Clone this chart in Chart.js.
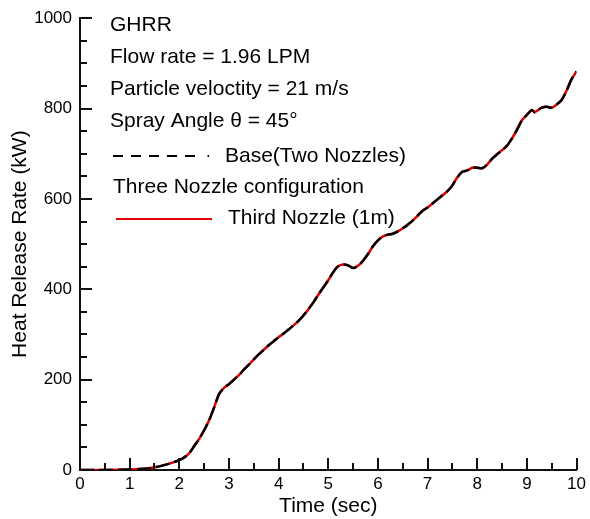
<!DOCTYPE html>
<html>
<head>
<meta charset="utf-8">
<script src="https://cdn.jsdelivr.net/npm/chart.js@4/dist/chart.umd.min.js"></script>
<style>
  html, body { margin: 0; padding: 0; background: #fff; }
  #wrap { position: relative; width: 590px; height: 519px; }
</style>
</head>
<body>
<div id="wrap"><canvas id="c" width="590" height="519"></canvas></div>
<script>
// ---- data ----
const timeSec = [0, 0.5, 1.0, 1.2, 1.4, 1.5, 1.6, 1.8, 2.0, 2.1, 2.2, 2.3, 2.4, 2.5, 2.6, 2.7, 2.8, 2.9, 3.0,
  3.1, 3.2, 3.3, 3.4, 3.5, 3.6, 3.7, 3.8, 3.9, 4.0, 4.1, 4.2, 4.3, 4.4, 4.5, 4.6, 4.7, 4.8, 4.9, 5.0,
  5.1, 5.2, 5.3, 5.4, 5.5, 5.6, 5.7, 5.8, 5.9, 6.0, 6.1, 6.2, 6.3, 6.4, 6.5, 6.6, 6.7, 6.8, 6.9, 7.0,
  7.1, 7.2, 7.3, 7.4, 7.5, 7.6, 7.7, 7.8, 7.9, 8.0, 8.1, 8.2, 8.3, 8.4, 8.5, 8.6, 8.7, 8.8, 8.9, 9.0,
  9.1, 9.15, 9.2, 9.3, 9.4, 9.5, 9.6, 9.7, 9.8, 9.9, 10.0];
const baseTwoNozzles = [0, 0, 1, 2, 4, 6, 8, 14, 22, 28, 37, 53, 69, 88, 110, 138, 168, 182, 190,
  200, 210, 222, 233, 245, 256, 266, 276, 285, 294, 302, 311, 320, 330, 342, 356, 371, 388, 404, 420,
  438, 451, 455, 453, 447, 452, 463, 478, 495, 508, 517, 521, 523, 528, 535, 543, 552, 563, 574, 581,
  590, 599, 608, 617, 630, 648, 660, 663, 669, 669, 668, 676, 689, 699, 708, 718, 734, 753, 774, 786,
  797, 792, 795, 802, 804, 802, 809, 819, 840, 865, 882];
const thirdNozzle1m = [0, 0, 1, 2, 4, 6, 8, 14, 22, 28, 37, 53, 69, 88, 110, 138, 168, 182, 190,
  200, 210, 222, 233, 245, 256, 266, 276, 285, 294, 302, 311, 320, 330, 342, 356, 371, 388, 404, 420,
  438, 451, 455, 453, 447, 452, 463, 478, 495, 508, 517, 521, 523, 528, 535, 543, 552, 563, 574, 581,
  590, 599, 608, 617, 630, 648, 660, 663, 669, 669, 668, 676, 689, 699, 708, 718, 734, 753, 774, 786,
  797, 792, 795, 802, 804, 802, 809, 819, 840, 865, 882];
const xTickValues = [0, 1, 2, 3, 4, 5, 6, 7, 8, 9, 10];
const yTickValues = [0, 200, 400, 600, 800, 1000];
const annotationLines = ["GHRR", "Flow rate = 1.96 LPM", "Particle veloctity = 21 m/s", "Spray Angle \u03B8 = 45\u00B0"];
const legendBase = "Base(Two Nozzles)";
const legendGroup = "Three Nozzle configuration";
const legendThird = "Third Nozzle (1m)";

const FONT = "'Liberation Sans', Arial, Helvetica, sans-serif";

const toPts = (xs, ys) => xs.map((x, i) => ({ x: x, y: ys[i] }));

const innerTicks = {
  id: 'innerTicks',
  afterDraw(chart) {
    const ctx = chart.ctx;
    const xs = chart.scales.x, ys = chart.scales.y;
    const ca = chart.chartArea;
    ctx.save();
    ctx.strokeStyle = '#111';
    ctx.lineWidth = 2;
    for (let v = 0; v <= 10.0001; v += 0.5) {
      const px = Math.round(xs.getPixelForValue(v));
      const major = Math.abs(v - Math.round(v)) < 1e-6;
      const len = major ? 12 : 7;
      ctx.beginPath();
      ctx.moveTo(px, ca.bottom);
      ctx.lineTo(px, ca.bottom - len);
      ctx.stroke();
    }
    for (let v = 0; v <= 1000; v += 50) {
      const py = Math.round(ys.getPixelForValue(v));
      const major = v % 200 === 0;
      const len = major ? 12 : 7;
      ctx.beginPath();
      ctx.moveTo(ca.left, py);
      ctx.lineTo(ca.left + len, py);
      ctx.stroke();
    }
    ctx.restore();

    ctx.save();
    ctx.fillStyle = '#000';
    ctx.font = '21px ' + FONT;
    ctx.textBaseline = 'middle';
    ctx.textAlign = 'left';
    const ty = [25, 57, 89, 121];
    annotationLines.forEach((t, i) => ctx.fillText(t, 110, ty[i]));
    ctx.strokeStyle = '#000';
    ctx.lineWidth = 2;
    ctx.setLineDash([10, 8]);
    ctx.beginPath(); ctx.moveTo(113, 156); ctx.lineTo(199, 156); ctx.stroke();
    ctx.setLineDash([]);
    ctx.beginPath(); ctx.moveTo(207.5, 156); ctx.lineTo(209, 156); ctx.stroke();
    ctx.fillText(legendBase, 225, 156);
    ctx.fillText(legendGroup, 113, 187);
    ctx.strokeStyle = '#e00000';
    ctx.beginPath(); ctx.moveTo(116, 219); ctx.lineTo(212, 219); ctx.stroke();
    ctx.fillText(legendThird, 228, 218);
    ctx.restore();
  }
};

new Chart(document.getElementById('c'), {
  type: 'line',
  data: {
    datasets: [
      {
        label: legendBase,
        data: toPts(timeSec, baseTwoNozzles),
        borderColor: '#000',
        borderWidth: 2.5,
        borderDash: [14, 5],
        pointRadius: 0,
        tension: 0.25,
        fill: false
      },
      {
        label: legendThird,
        data: toPts(timeSec, thirdNozzle1m),
        borderColor: '#e00000',
        borderWidth: 2.5,
        pointRadius: 0,
        tension: 0.25,
        fill: false
      }
    ]
  },
  plugins: [innerTicks],
  options: {
    responsive: false,
    animation: false,
    devicePixelRatio: 1,
    layout: { padding: { top: 16, right: 11, left: 0, bottom: 0 } },
    plugins: { legend: { display: false }, tooltip: { enabled: false } },
    scales: {
      x: {
        type: 'linear',
        min: 0, max: 10,
        afterBuildTicks: (s) => { s.ticks = xTickValues.map(v => ({ value: v })); },
        afterFit: (s) => { s.height = 49; },
        grid: { display: false, drawTicks: false },
        border: { display: true, color: '#111', width: 2 },
        ticks: { color: '#000', padding: 4, font: { family: FONT, size: 17 }, maxRotation: 0, callback: (v) => String(v) },
        title: { display: true, text: 'Time (sec)', color: '#000', font: { family: FONT, size: 21 }, padding: { top: 2, bottom: 0 } }
      },
      y: {
        type: 'linear',
        min: 0, max: 1000,
        afterBuildTicks: (s) => { s.ticks = yTickValues.map(v => ({ value: v })); },
        afterFit: (s) => { s.width = 80; },
        grid: { display: false, drawTicks: false },
        border: { display: true, color: '#111', width: 2 },
        ticks: { color: '#000', padding: 8, font: { family: FONT, size: 17 }, callback: (v) => String(v) },
        title: { display: true, text: 'Heat Release Rate (kW)', color: '#000', font: { family: FONT, size: 21 }, padding: { top: 8, bottom: 0 } }
      }
    }
  }
});
</script>
</body>
</html>
